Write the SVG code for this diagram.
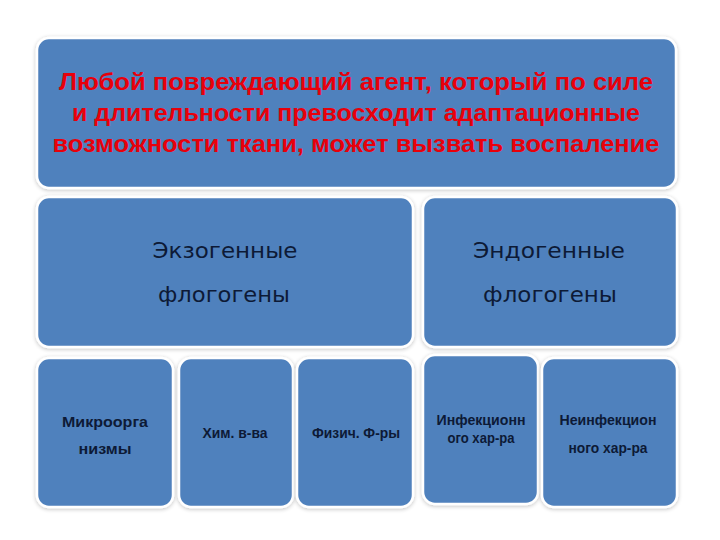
<svg xmlns="http://www.w3.org/2000/svg" width="720" height="540" viewBox="0 0 720 540">
  <defs>
    <filter id="sh" x="-10%" y="-10%" width="120%" height="120%">
      <feGaussianBlur in="SourceAlpha" stdDeviation="2"/>
      <feOffset dx="0" dy="1" result="b"/>
      <feComponentTransfer><feFuncA type="linear" slope="0.25"/></feComponentTransfer>
      <feMerge><feMergeNode/><feMergeNode in="SourceGraphic"/></feMerge>
    </filter>
  </defs>
  <style>
    .box { fill: #4f81bd; stroke: #ffffff; stroke-width: 2.5; filter: url(#sh); }
    .title { font-family: "Liberation Sans", "DejaVu Sans", sans-serif; font-weight: bold; font-size: 23px; fill: #e8000b; text-anchor: middle; }
    .mid { font-family: "DejaVu Sans", "Liberation Sans", sans-serif; font-size: 21px; fill: #0d1a36; text-anchor: middle; }
    .small { font-family: "Liberation Sans", "DejaVu Sans", sans-serif; font-weight: bold; font-size: 14px; fill: #0d1a36; text-anchor: middle; }
  </style>
  <rect width="720" height="540" fill="#ffffff"/>
  <g id="connectors"></g>
  <g id="top">
    <rect class="box" x="37" y="38" width="639" height="150" rx="12"/>
    <text class="title" x="356" y="90" textLength="594" lengthAdjust="spacingAndGlyphs">Любой повреждающий агент, который по силе</text>
    <text class="title" x="356" y="121" textLength="568" lengthAdjust="spacingAndGlyphs">и длительности превосходит адаптационные</text>
    <text class="title" x="356" y="152" textLength="607" lengthAdjust="spacingAndGlyphs">возможности ткани, может вызвать воспаление</text>
  </g>
  <g id="exo">
    <rect class="box" x="37" y="197" width="376" height="150" rx="12"/>
    <text class="mid" x="225" y="258" textLength="145" lengthAdjust="spacingAndGlyphs">Экзогенные</text>
    <text class="mid" x="224" y="302" textLength="132" lengthAdjust="spacingAndGlyphs">флогогены</text>
  </g>
  <g id="endo">
    <rect class="box" x="423" y="197" width="254" height="150" rx="12"/>
    <text class="mid" x="549" y="258" textLength="152" lengthAdjust="spacingAndGlyphs">Эндогенные</text>
    <text class="mid" x="550" y="302" textLength="134" lengthAdjust="spacingAndGlyphs">флогогены</text>
  </g>
  <g id="micro">
    <rect class="box" x="37" y="358" width="136" height="149" rx="12"/>
    <text class="small" x="105" y="427" font-size="15" textLength="86" lengthAdjust="spacingAndGlyphs">Микроорга</text>
    <text class="small" x="105" y="454" font-size="15" textLength="53" lengthAdjust="spacingAndGlyphs">низмы</text>
  </g>
  <g id="chem">
    <rect class="box" x="179" y="358" width="114" height="149" rx="12"/>
    <text class="small" x="235" y="438" textLength="65" lengthAdjust="spacingAndGlyphs">Хим. в-ва</text>
  </g>
  <g id="phys">
    <rect class="box" x="297" y="358" width="116" height="149" rx="12"/>
    <text class="small" x="356" y="438" textLength="88" lengthAdjust="spacingAndGlyphs">Физич. Ф-ры</text>
  </g>
  <g id="infect">
    <rect class="box" x="423" y="355" width="115" height="149" rx="12"/>
    <text class="small" x="481" y="425" textLength="89" lengthAdjust="spacingAndGlyphs">Инфекционн</text>
    <text class="small" x="481" y="443" textLength="67" lengthAdjust="spacingAndGlyphs">ого хар-ра</text>
  </g>
  <g id="noninfect">
    <rect class="box" x="542" y="358" width="135" height="149" rx="12"/>
    <text class="small" x="608" y="425" textLength="97" lengthAdjust="spacingAndGlyphs">Неинфекцион</text>
    <text class="small" x="608" y="453" textLength="79" lengthAdjust="spacingAndGlyphs">ного хар-ра</text>
  </g>
</svg>
